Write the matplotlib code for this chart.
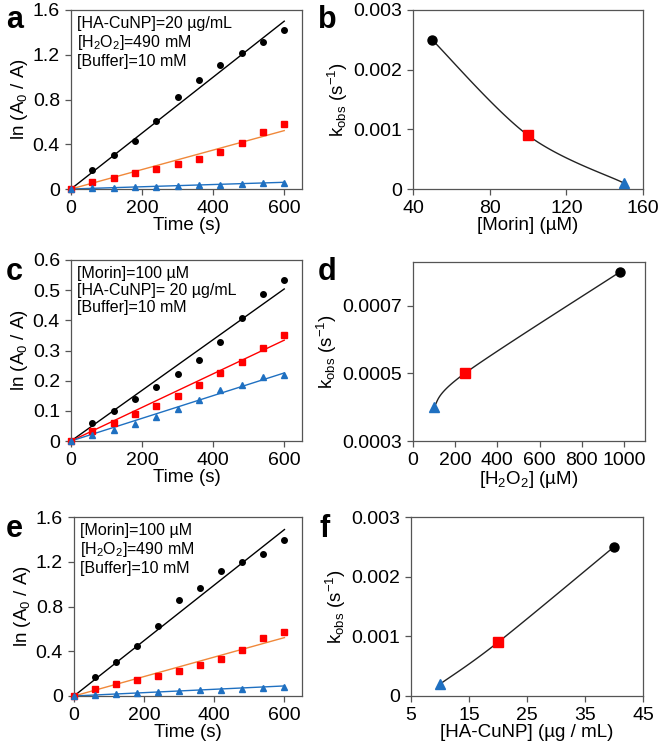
import numpy as np
import matplotlib
matplotlib.use("Agg")
import matplotlib.pyplot as plt

plt.rcParams["font.family"] = ["Liberation Sans", "DejaVu Sans"]
plt.rcParams["mathtext.fontset"] = "custom"
plt.rcParams["mathtext.rm"] = "Liberation Sans"
plt.rcParams["mathtext.it"] = "Liberation Sans:italic"
plt.rcParams["mathtext.default"] = "regular"

time_s = [0, 60, 120, 180, 240, 300, 360, 420, 480, 540, 600]

# panel a: varying [Morin]
a_black = [0, 0.17, 0.30, 0.43, 0.61, 0.82, 0.97, 1.11, 1.22, 1.31, 1.42]
a_red = [0, 0.063, 0.10, 0.14, 0.18, 0.22, 0.27, 0.33, 0.41, 0.51, 0.58]
a_blue = [0, 0.006, 0.011, 0.016, 0.022, 0.028, 0.034, 0.040, 0.046, 0.052, 0.058]
a_slopes = [0.0025, 0.00087, 0.0001]

# panel b
morin_uM = [50, 100, 150]
k_morin = [0.0025, 0.0009, 0.0001]

# panel c: varying [H2O2]
c_black = [0, 0.060, 0.100, 0.138, 0.178, 0.221, 0.270, 0.329, 0.407, 0.486, 0.534]
c_red = [0, 0.032, 0.061, 0.089, 0.117, 0.149, 0.184, 0.224, 0.261, 0.309, 0.351]
c_blue = [0, 0.019, 0.035, 0.056, 0.079, 0.106, 0.135, 0.168, 0.185, 0.213, 0.218]
c_slopes = [0.00084, 0.000557, 0.000376]

# panel d
h2o2_uM = [98, 245, 980]
k_h2o2 = [0.0004, 0.0005, 0.0008]

# panel e: varying [HA-CuNP]
e_black = [0, 0.167, 0.30, 0.446, 0.627, 0.86, 0.967, 1.118, 1.20, 1.273, 1.398]
e_red = [0, 0.062, 0.104, 0.143, 0.181, 0.223, 0.274, 0.33, 0.41, 0.518, 0.568]
e_blue = [0, 0.010, 0.020, 0.027, 0.035, 0.043, 0.050, 0.058, 0.066, 0.074, 0.083]
e_slopes = [0.00248, 0.00087, 0.00015]

# panel f
cunp_ugml = [10, 20, 40]
k_cunp = [0.0002, 0.0009, 0.0025]

BLACK = "#000000"
RED = "#ff0000"
BLUE = "#1f70c1"
ORANGE = "#f0883a"
SPINE = "#555555"

W, H = 661, 750
fig = plt.figure(figsize=(W / 100, H / 100), dpi=100)


def make_axes(l, t, r, b):
    ax = fig.add_axes([l / W, 1 - b / H, (r - l) / W, (b - t) / H])
    for s in ax.spines.values():
        s.set_color(SPINE)
        s.set_linewidth(0.9)
    ax.tick_params(direction="out", length=4, width=0.9, color=SPINE,
                   labelsize=14)
    ax.tick_params(axis="x", pad=4)
    ax.tick_params(axis="y", pad=4)
    return ax


def fmt(v):
    s = ("%.4f" % v).rstrip("0").rstrip(".")
    return "0" if float(s) == 0 else s


def kinetics(ax, blk, red, blu, slopes, line_cols, ylim, yticks, notes):
    t = np.array(time_s)
    tl = np.array([0, 600])
    for sl, c in zip(slopes, line_cols):
        ax.plot(tl, sl * tl, color=c, lw=1.0, zorder=2)
    ax.plot(t, blk, "o", color=BLACK, ms=4, zorder=3, clip_on=False)
    ax.plot(t, red, "s", color=RED, ms=4.5, zorder=3, clip_on=False)
    ax.plot(t, blu, "^", color=BLUE, ms=4, zorder=3, clip_on=False)
    ax.set_xlim(0, 650)
    ax.set_ylim(*ylim)
    ax.set_xticks([0, 200, 400, 600])
    ax.set_yticks(yticks)
    ax.set_yticklabels([fmt(v) for v in yticks])
    ax.set_xlabel("Time (s)", fontsize=13.5, labelpad=0)
    ax.set_ylabel("ln (A$_0$ / A)", fontsize=13.5, labelpad=2)
    ax.text(0.025, 0.965, "\n".join(notes), transform=ax.transAxes,
            fontsize=11.5, va="top", ha="left", linespacing=1.15)


def smooth(xs, ys, xr, yr, n=60):
    # Excel-like smoothed line (Catmull-Rom bezier) in normalised units
    p = np.column_stack([(np.array(xs) - xr[0]) / (xr[1] - xr[0]),
                         (np.array(ys) - yr[0]) / (yr[1] - yr[0])])
    ext = np.vstack([p[0], p, p[-1]])
    out = []
    tt = np.linspace(0, 1, n)[:, None]
    for i in range(len(p) - 1):
        p0, p3 = ext[i + 1], ext[i + 2]
        c1 = p0 + (ext[i + 2] - ext[i]) / 6
        c2 = p3 - (ext[i + 3] - ext[i + 1]) / 6
        seg = ((1 - tt) ** 3 * p0 + 3 * (1 - tt) ** 2 * tt * c1
               + 3 * (1 - tt) * tt ** 2 * c2 + tt ** 3 * p3)
        out.append(seg)
    seg = np.vstack(out)
    return (seg[:, 0] * (xr[1] - xr[0]) + xr[0],
            seg[:, 1] * (yr[1] - yr[0]) + yr[0])


def rate(ax, xs, ks, xlim, xticks, ylim, yticks, xlabel):
    sx, sy = smooth(xs, ks, xlim, ylim)
    ax.plot(sx, sy, color="#222222", lw=1.0, zorder=2)
    order = sorted(range(3), key=lambda i: ks[i])
    marks = [("^", BLUE, 6.5), ("s", RED, 7), ("o", BLACK, 6.5)]
    for i, (m, c, s) in zip(order, marks):
        ax.plot(xs[i], ks[i], m, color=c, ms=s, zorder=3, clip_on=False)
    ax.set_xlim(*xlim)
    ax.set_ylim(*ylim)
    ax.set_xticks(xticks)
    ax.set_yticks(yticks)
    ax.set_yticklabels([fmt(v) for v in yticks])
    ax.set_xlabel(xlabel, fontsize=13.5, labelpad=0)
    ax.set_ylabel("k$_{obs}$ (s$^{-1}$)", fontsize=13.5, labelpad=2)


ax = make_axes(71, 10, 302, 189)
kinetics(ax, a_black, a_red, a_blue, a_slopes, [BLACK, ORANGE, BLUE],
         (0, 1.6), [0, 0.4, 0.8, 1.2, 1.6],
         ["[HA-CuNP]=20 µg/mL", "[H$_2$O$_2$]=490 mM", "[Buffer]=10 mM"])

ax = make_axes(413, 10, 643, 189)
rate(ax, morin_uM, k_morin, (40, 160), [40, 80, 120, 160],
     (0, 0.003), [0, 0.001, 0.002, 0.003], "[Morin] (µM)")

ax = make_axes(71, 260, 302, 441)
kinetics(ax, c_black, c_red, c_blue, c_slopes, [BLACK, RED, BLUE],
         (0, 0.6), [0, 0.1, 0.2, 0.3, 0.4, 0.5, 0.6],
         ["[Morin]=100 µM", "[HA-CuNP]= 20 µg/mL", "[Buffer]=10 mM"])

ax = make_axes(413, 262, 645, 441)
rate(ax, h2o2_uM, k_h2o2, (0, 1100), [0, 200, 400, 600, 800, 1000],
     (0.0003, 0.00083), [0.0003, 0.0005, 0.0007], "[H$_2$O$_2$] (µM)")

ax = make_axes(74, 517, 302, 696)
kinetics(ax, e_black, e_red, e_blue, e_slopes, [BLACK, ORANGE, BLUE],
         (0, 1.6), [0, 0.4, 0.8, 1.2, 1.6],
         ["[Morin]=100 µM", "[H$_2$O$_2$]=490 mM", "[Buffer]=10 mM"])

ax = make_axes(411, 517, 643, 696)
rate(ax, cunp_ugml, k_cunp, (5, 45), [5, 15, 25, 35, 45],
     (0, 0.003), [0, 0.001, 0.002, 0.003], "[HA-CuNP] (µg / mL)")

for letter, x, y in [("a", 6, 28), ("b", 318, 28), ("c", 6, 280),
                     ("d", 318, 280), ("e", 6, 537), ("f", 320, 537)]:
    fig.text(x / W, 1 - y / H, letter, fontsize=22, fontweight="bold",
             ha="left", va="baseline")

fig.savefig("out.png", dpi=100)
